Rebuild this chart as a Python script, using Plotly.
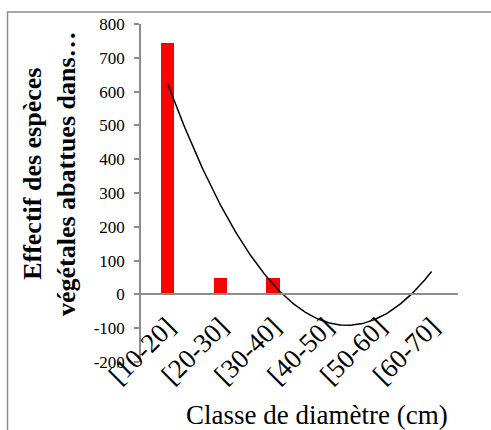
import numpy as np
import plotly.graph_objects as go

categories = ["[10-20]", "[20-30]", "[30-40]", "[40-50]", "[50-60]", "[60-70]"]
effectif = [743, 48, 48, 0, 0, 0]
y_ticks = [-200, -100, 0, 100, 200, 300, 400, 500, 600, 700, 800]
y_tick_labels = ["-200", "-100", "0", "100", "200", "300", "400", "500", "600", "700", "800"]

x_pos = np.arange(1, len(categories) + 1)

# order-2 polynomial trendline fitted on the bar values (like the spreadsheet's trendline)
coef = np.polyfit(x_pos, effectif, 2)
x_fit = np.linspace(1, len(categories), 200)
y_fit = np.polyval(coef, x_fit)

FONT = "Liberation Serif"
GRAY = "#8c8c8c"

W, H = 491, 430
L, R, T, B = 141, 33, 24, 68
pw = W - L - R
ph = H - T - B

def px(x):
    return (x - L) / pw

def py(y):
    return (H - B - y) / ph

fig = go.Figure()
fig.add_trace(go.Bar(x=x_pos, y=effectif, marker=dict(color="#ff0000", line=dict(width=0)),
                     width=0.25, showlegend=False))
fig.add_trace(go.Scatter(x=x_fit, y=y_fit, mode="lines", line=dict(color="black", width=1.5),
                         showlegend=False))

fig.update_layout(
    width=W, height=H,
    margin=dict(l=L, r=R, t=T, b=B, autoexpand=False),
    paper_bgcolor="white", plot_bgcolor="white",
    font=dict(family=FONT, color="black"),
    bargap=0,
    xaxis=dict(range=[0.5, 6.5], tickmode="array", tickvals=list(x_pos), ticktext=categories,
               tickangle=-45, tickfont=dict(size=27, family=FONT, color="black"),
               anchor="free", position=0.2, showline=True, linecolor=GRAY, linewidth=1.5,
               showgrid=False, zeroline=False, ticks="", automargin=False,
               ticklabelstandoff=5),
    yaxis=dict(range=[-200, 800], tickmode="array", tickvals=y_ticks, ticktext=y_tick_labels,
               tickfont=dict(size=17, family=FONT, color="black"),
               ticks="outside", ticklen=5, tickcolor=GRAY, tickwidth=1.5,
               showline=True, linecolor=GRAY, linewidth=1.5, showgrid=False, zeroline=False,
               ticklabelstandoff=6, automargin=False),
    shapes=[dict(type="rect", xref="paper", yref="paper",
                 x0=px(7.5), x1=px(520), y0=py(460), y1=py(12),
                 line=dict(color=GRAY, width=1.5), fillcolor="rgba(0,0,0,0)", layer="below")],
    annotations=[
        dict(text="<b>Effectif des espèces<br>végétales abattues dans…</b>", textangle=-90,
             xref="paper", yref="paper", x=px(49), y=py(173), xanchor="center", yanchor="middle",
             showarrow=False, font=dict(size=26, family=FONT, color="black")),
        dict(text="Classe de diamètre (cm)", xref="paper", yref="paper",
             x=px(316.5), y=py(415), xanchor="center", yanchor="middle",
             showarrow=False, font=dict(size=27, family=FONT, color="black")),
    ],
)

fig.write_html("out.html", config={"displayModeBar": False},
               post_script="document.body.style.margin='0';")
